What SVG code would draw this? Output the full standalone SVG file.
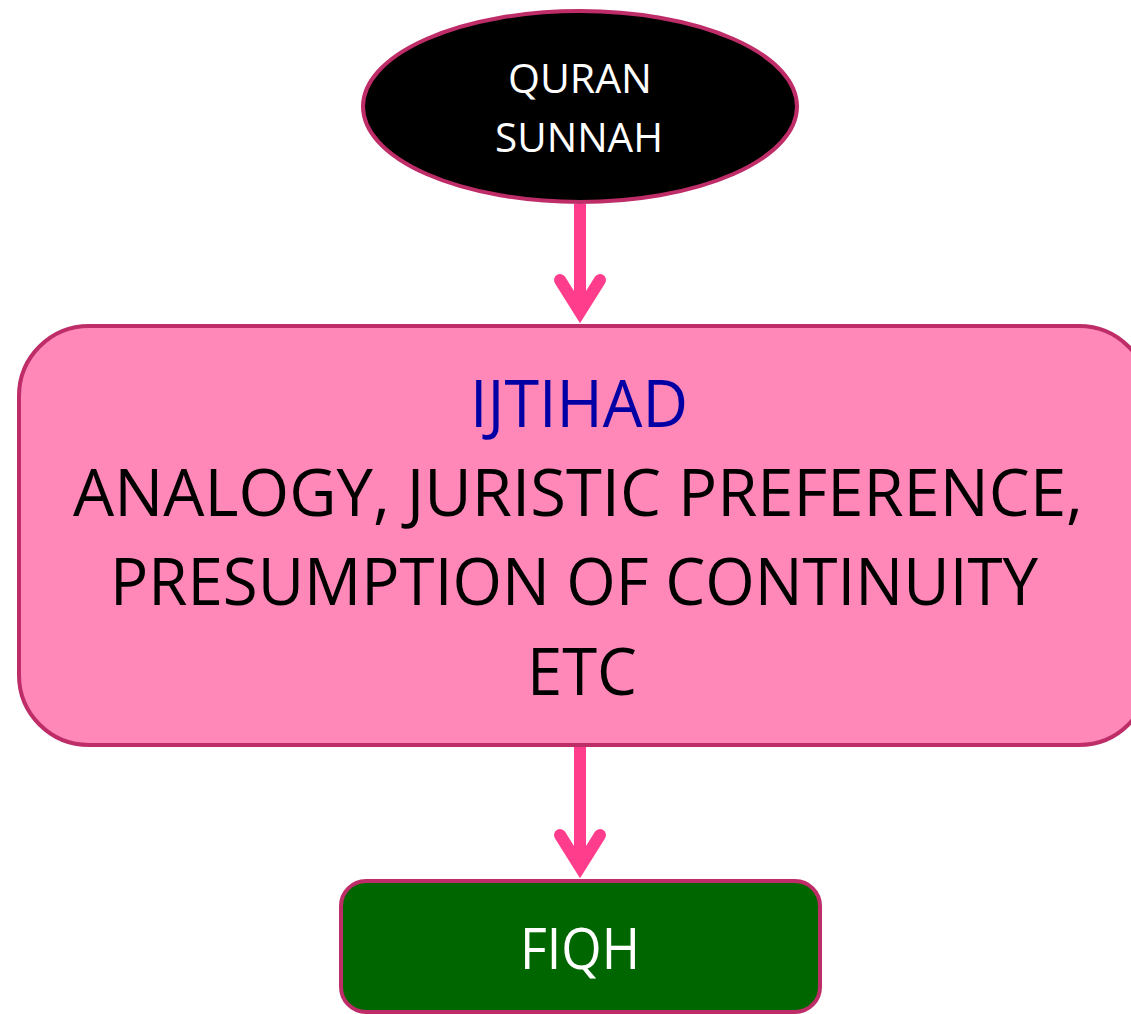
<svg xmlns="http://www.w3.org/2000/svg" width="1131" height="1014" viewBox="0 0 1131 1014">
<style>
.t{font-family:"Open Sans","Liberation Sans",sans-serif;text-anchor:middle}
.shape{stroke:#BE2D68;stroke-width:4}
.conn{stroke:#FF3D8C;stroke-width:12;fill:none}
</style>
<rect width="1131" height="1014" fill="#ffffff"/>
<g id="connectors">
<line class="conn" x1="580" y1="204" x2="580" y2="312"/>
<polyline class="conn" points="560,280 580,312 600,280" stroke-linecap="round" stroke-linejoin="miter" stroke-miterlimit="10"/>
<line class="conn" x1="580" y1="747" x2="580" y2="867"/>
<polyline class="conn" points="560,835 580,867 600,835" stroke-linecap="round" stroke-linejoin="miter" stroke-miterlimit="10"/>
</g>
<g id="quran">
<ellipse class="shape" cx="580" cy="106.5" rx="217" ry="95.5" fill="#000000"/>
<text class="t" x="580" y="93" font-size="41" fill="#ffffff" textLength="144" lengthAdjust="spacingAndGlyphs">QURAN</text>
<text class="t" x="579" y="152" font-size="41" fill="#ffffff" textLength="168" lengthAdjust="spacingAndGlyphs">SUNNAH</text>
</g>
<g id="ijtihad">
<rect class="shape" x="19" y="326" width="1130" height="419" rx="70" ry="70" fill="#FF88B8"/>
<text class="t" x="579" y="427" font-size="65" fill="#0000A5" textLength="218" lengthAdjust="spacingAndGlyphs">IJTIHAD</text>
<text class="t" x="578" y="516" font-size="65" fill="#000000" textLength="1010" lengthAdjust="spacingAndGlyphs">ANALOGY, JURISTIC PREFERENCE,</text>
<text class="t" x="574" y="605" font-size="65" fill="#000000" textLength="928" lengthAdjust="spacingAndGlyphs">PRESUMPTION OF CONTINUITY</text>
<text class="t" x="582" y="695" font-size="65" fill="#000000" textLength="110" lengthAdjust="spacingAndGlyphs">ETC</text>
</g>
<g id="fiqh">
<rect class="shape" x="341" y="881" width="479" height="131" rx="25" ry="25" fill="#006600"/>
<text class="t" x="580" y="969" font-size="57" fill="#ffffff" textLength="120" lengthAdjust="spacingAndGlyphs">FIQH</text>
</g>
</svg>
